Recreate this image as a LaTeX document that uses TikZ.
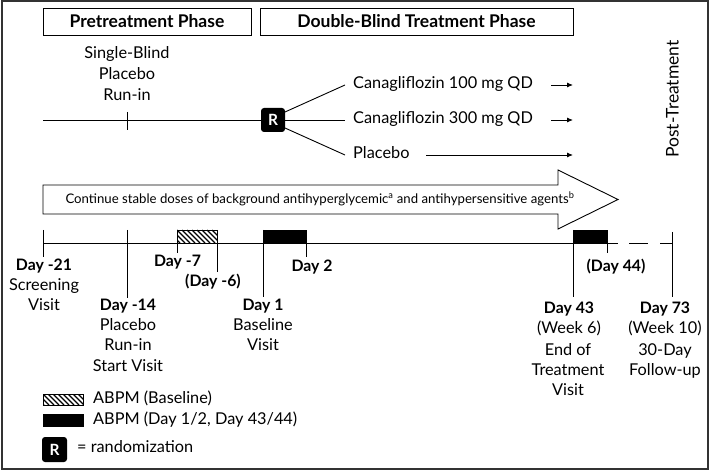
\documentclass[tikz,border=0pt]{standalone}
\usepackage{fontspec}
\setmainfont{Lato}
\usetikzlibrary{arrows.meta}
\definecolor{frame}{HTML}{333333}
\tikzset{
  x=1pt, y=-1pt,
  phasebox/.style={draw, line width=0.9pt, inner sep=0pt, minimum height=27pt, font=\bfseries\fontsize{17.5}{17}\selectfont},
  lbl/.style={font=\fontsize{16.3}{16}\selectfont, inner sep=0pt, text height=0.72em, text depth=0pt},
  blbl/.style={font=\bfseries\fontsize{15.8}{16}\selectfont, inner sep=0pt, text height=0.72em, text depth=0pt},
  rbox/.style={fill=black, rounded corners=3pt, text=white, font=\bfseries\fontsize{15.5}{15}\selectfont, minimum width=24pt, minimum height=24pt, inner sep=0pt},
  tl/.style={line width=0.9pt},
  hline/.style={line width=1.4pt},
  solidbox/.style={draw, fill=black, line width=0.8pt},
  arr/.style={line width=0.9pt, -{Latex[length=6pt,width=5pt]}},
}
\newcommand{\hatchbox}[4]{%
  \begin{scope}
    \clip (#1,#2) rectangle (#3,#4);
    \foreach \i in {-20,-15,...,50} \draw[hline] (#1+\i,#2) -- (#1+\i+#4-#2,#4);
  \end{scope}
  \draw[line width=0.8pt] (#1,#2) rectangle (#3,#4);
}
\begin{document}
\begin{tikzpicture}
\useasboundingbox (0,0) rectangle (709,470);
\draw[frame, line width=2pt] (1.5,1.5) rectangle (707.5,468.5);
% phase boxes
\node[phasebox, minimum width=208pt] (pre) at (147,21.5) {Pretreatment Phase};
\node[phasebox, minimum width=313pt] (dbt) at (416.5,21.5) {Double-Blind Treatment Phase};
% single-blind
\node[lbl] (sb1) at (127,55) {Single-Blind};
\node[lbl] (sb2) at (127,76) {Placebo};
\node[lbl] (sb3) at (127,97) {Run-in};
\coordinate (l0) at (43,120);
\coordinate (tk1) at (127,112);
\coordinate (tk2) at (127,130);
\node[rbox] (R) at (273,120) {R};
\draw[tl] (l0) -- (R.west);
\draw[tl] (tk1) -- (tk2);
% arms
\node[lbl, anchor=west, inner xsep=8pt] (a1) at (345,85) {Canagliflozin 100 mg QD};
\node[lbl, anchor=west, inner xsep=8pt] (a2) at (345,120) {Canagliflozin 300 mg QD};
\node[lbl, anchor=west, inner xsep=8pt] (a3) at (345,155) {Placebo};
\draw[tl] (285,112) -- (a1.west);
\draw[tl] (R.east) -- (a2.west);
\draw[tl] (285,128) -- (a3.west);
\coordinate (e1s) at (551,85); \coordinate (e1) at (573,85);
\coordinate (e2s) at (551,120); \coordinate (e2) at (573,120);
\coordinate (e3s) at (426,155); \coordinate (e3) at (573,155);
\draw[arr] (e1s) -- (e1);
\draw[arr] (e2s) -- (e2);
\draw[arr] (e3s) -- (e3);
\node[lbl, rotate=90, font=\fontsize{17.5}{16}\selectfont] (post) at (675,99) {Post-Treatment};
% big arrow
\draw[line width=0.9pt, fill=white] (43,185) -- (558,185) -- (558,170) -- (618,199.5) -- (558,229) -- (558,214) -- (43,214) -- cycle;
\node[lbl, font=\fontsize{13.2}{13}\selectfont] (cont) at (320,199.5) {Continue stable doses of background antihyperglycemic\textsuperscript{a} and antihypersensitive agents\textsuperscript{b}};
% timeline
\coordinate (t0) at (43,243);
\coordinate (t1) at (618,243);
\coordinate (t2) at (672,243);
\draw[tl] (t0) -- (t1);
\draw[tl, dash pattern=on 19pt off 12pt, dash phase=-11pt] (t1) -- (t2);
% abpm boxes
\hatchbox{177}{230}{217}{243}
\draw[solidbox] (263,230) rectangle (306,243);
\draw[solidbox] (573,230) rectangle (607,243);
% ticks
\draw[tl] (43,230) -- (43,257);
\draw[tl] (127.5,230) -- (127.5,298);
\draw[tl] (177,243) -- (177,253);
\draw[tl] (217,243) -- (217,272);
\draw[tl] (263,230) -- (263,297);
\draw[tl] (306,243) -- (306,257);
\draw[tl] (573,230) -- (573,297);
\draw[tl] (607,243) -- (607,253);
\draw[tl] (672,232) -- (672,297);
% labels
\node[blbl] (d21) at (44,267) {Day -21};
\node[lbl] (d21a) at (44,287) {Screening};
\node[lbl] (d21b) at (44,307) {Visit};
\node[blbl] (d7) at (177.5,263) {Day -7};
\node[blbl] (d6) at (213,283) {(Day -6)};
\node[blbl] (d2) at (312,268) {Day 2};
\node[blbl] (d14) at (128,307) {Day -14};
\node[lbl] (d14a) at (128,327) {Placebo};
\node[lbl] (d14b) at (128,347) {Run-in};
\node[lbl] (d14c) at (128,368) {Start Visit};
\node[blbl] (d1) at (263,307) {Day 1};
\node[lbl] (d1a) at (263,327) {Baseline};
\node[lbl] (d1b) at (263,347) {Visit};
\node[blbl] (d44) at (616,268) {(Day 44)};
\node[blbl] (d43) at (569,310) {Day 43};
\node[lbl] (d43a) at (569,330) {(Week 6)};
\node[lbl] (d43b) at (568,352) {End of};
\node[lbl] (d43c) at (568,372) {Treatment};
\node[lbl] (d43d) at (568,392) {Visit};
\node[blbl] (d73) at (665,310) {Day 73};
\node[lbl] (d73a) at (665,330) {(Week 10)};
\node[lbl] (d73b) at (665,352) {30-Day};
\node[lbl] (d73c) at (665,372) {Follow-up};
% legend
\hatchbox{43}{394}{83}{405}
\node[lbl, anchor=west] (lg1) at (93,400) {ABPM (Baseline)};
\draw[solidbox] (43,414) rectangle (83,426);
\node[lbl, anchor=west] (lg2) at (93,421) {ABPM (Day 1/2, Day 43/44)};
\node[rbox, minimum width=25pt, minimum height=25pt] (lgR) at (54.5,449.5) {R};
\node[lbl, anchor=west] (lg3) at (77,449) {= randomization};
\end{tikzpicture}
\end{document}
